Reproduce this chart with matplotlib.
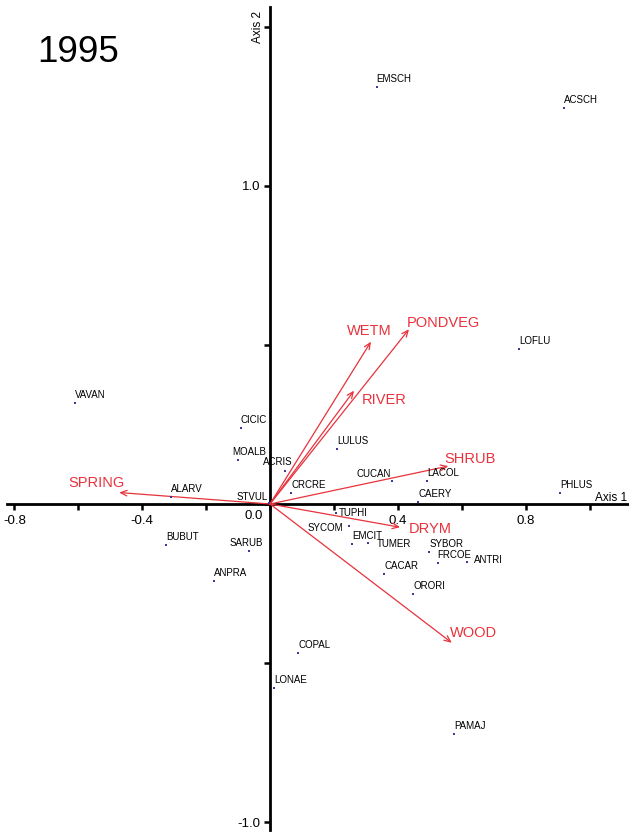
import matplotlib
matplotlib.use("Agg")
import matplotlib.pyplot as plt

plt.rcParams['font.family'] = ['Liberation Sans', 'DejaVu Sans']

# ---- data ----
species = ["EMSCH", "ACSCH", "LOFLU", "VAVAN", "CICIC", "MOALB", "ACRIS", "LULUS",
           "ALARV", "STVUL", "CRCRE", "CUCAN", "LACOL", "CAERY", "PHLUS", "TUPHI",
           "SYCOM", "EMCIT", "TUMER", "SYBOR", "FRCOE", "ANTRI", "CACAR", "ORORI",
           "BUBUT", "SARUB", "ANPRA", "COPAL", "LONAE", "PAMAJ"]
sp_x = [0.334, 0.921, 0.779, -0.610, -0.092, -0.099, 0.047, 0.209,
        -0.310, -0.004, 0.067, 0.383, 0.492, 0.464, 0.908, 0.207,
        0.247, 0.258, 0.308, 0.498, 0.525, 0.616, 0.358, 0.449,
        -0.326, -0.065, -0.174, 0.089, 0.013, 0.577]
sp_y = [1.309, 1.245, 0.487, 0.318, 0.240, 0.138, 0.105, 0.172,
        0.022, 0.004, 0.034, 0.073, 0.073, 0.007, 0.034, -0.027,
        -0.069, -0.127, -0.121, -0.152, -0.186, -0.183, -0.220, -0.283,
        -0.129, -0.149, -0.242, -0.469, -0.579, -0.723]

env = ["WETM", "PONDVEG", "RIVER", "SHRUB", "DRYM", "SPRING", "WOOD"]
env_x = [0.316, 0.435, 0.263, 0.558, 0.407, -0.472, 0.569]
env_y = [0.510, 0.549, 0.356, 0.119, -0.073, 0.036, -0.436]

x_ticks = [-0.8, -0.6, -0.4, -0.2, 0.0, 0.2, 0.4, 0.6, 0.8, 1.0]
x_ticklabels = ["-0.8", "", "-0.4", "", "", "", "0.4", "", "0.8", ""]
y_ticks = [-1.0, -0.5, 0.0, 0.5, 1.0, 1.5]
y_ticklabels = ["-1.0", "", "", "", "1.0", ""]

# ---- label placement (pixel offsets, alignment) ----
default_lab = (0, 3, 'left', 'bottom')
lab_adj = {
    "MOALB": (-6, 3, 'left', 'bottom'),
    "ACRIS": (-22, 4, 'left', 'bottom'),
    "SARUB": (-20, 3, 'left', 'bottom'),
    "CUCAN": (-1, 2, 'right', 'bottom'),
    "TUPHI": (3, 0, 'left', 'center'),
    "SYCOM": (-6, -2, 'right', 'center'),
    "TUMER": (8, -1.5, 'left', 'center'),
    "ANTRI": (7, 2, 'left', 'center'),
    "STVUL": (-1, 1, 'right', 'bottom'),
}
env_lab = {
    "WETM": (-24, 11, 'left'),
    "PONDVEG": (-2, 6, 'left'),
    "RIVER": (8, -9, 'left'),
    "SHRUB": (-4, 7, 'left'),
    "DRYM": (9, -2, 'left'),
    "SPRING": (5, 10, 'right'),
    "WOOD": (-2, 10, 'left'),
}

DPI = 100
px2pt = 72.0 / DPI
RED = "#e8323c"
DOT = "#3a3a9a"

fig = plt.figure(figsize=(6.29, 8.34), dpi=DPI)
ax = fig.add_axes([0, 0, 1, 1])
ax.set_xlim(-0.845, 1.1236)
ax.set_ylim(-1.0368, 1.5834)
ax.patch.set_visible(False)

for s in ("top", "right"):
    ax.spines[s].set_visible(False)
ax.spines["left"].set_position(("data", 0))
ax.spines["bottom"].set_position(("data", 0))
ax.spines["left"].set_bounds(-1.024, 1.562)
ax.spines["bottom"].set_bounds(-0.823, 1.125)
for s in ("left", "bottom"):
    ax.spines[s].set_linewidth(2.0)

ax.set_xticks(x_ticks)
ax.set_xticklabels(x_ticklabels)
ax.set_yticks(y_ticks)
ax.set_yticklabels(y_ticklabels)
ax.tick_params(axis='both', direction='out', length=4, width=1.8, labelsize=9.5,
               colors='black')
ax.tick_params(axis='x', pad=4)
ax.tick_params(axis='y', pad=3)
ax.text(-0.05, -0.02, "0.0", fontsize=9.5, ha='center', va='top')

# axis titles
ax.text(1.017, 0.0, "Axis 1", fontsize=8.5, ha='left', va='bottom')
ax.annotate("Axis 2", xy=(0, 1.5), xytext=(-4, 0), textcoords='offset points',
            fontsize=8.5, rotation=90, ha='right', va='center')

# year
fig.text(37 / 629, 1 - 35 / 834, "1995", fontsize=26.5, ha='left', va='top')

# environmental arrows
for name, ex, ey in zip(env, env_x, env_y):
    ax.annotate("", xy=(ex, ey), xytext=(0, 0),
                arrowprops=dict(arrowstyle="->,head_length=0.45,head_width=0.2",
                                color=RED, lw=0.9, shrinkA=0, shrinkB=0))
    dx, dy, ha = env_lab[name]
    ax.annotate(name, xy=(ex, ey), xytext=(dx * px2pt, dy * px2pt),
                textcoords='offset points', color=RED, fontsize=10.5,
                ha=ha, va='center')

# species points
ax.scatter(sp_x, sp_y, s=2.5, marker='s', color=DOT, linewidths=0, zorder=3)
for name, sx, sy in zip(species, sp_x, sp_y):
    dx, dy, ha, va = lab_adj.get(name, default_lab)
    ax.annotate(name, xy=(sx, sy), xytext=(dx * px2pt, dy * px2pt),
                textcoords='offset points', fontsize=7, ha=ha, va=va,
                color='black')

fig.savefig("out.png", dpi=DPI)
